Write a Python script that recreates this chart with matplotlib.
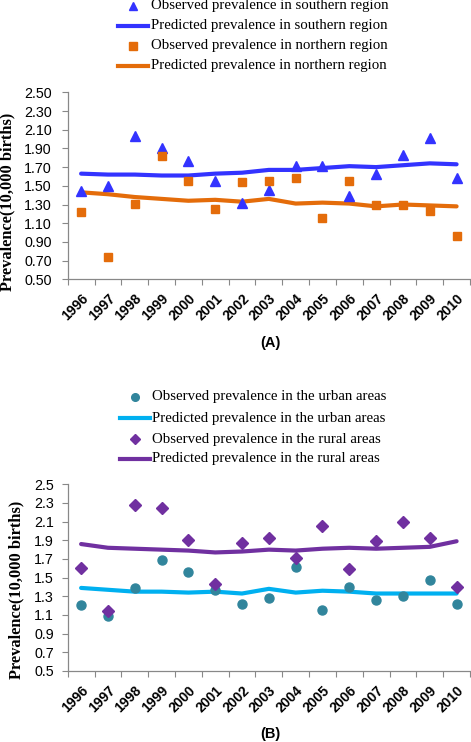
import matplotlib
matplotlib.use("Agg")
import matplotlib.pyplot as plt
from matplotlib.lines import Line2D
import numpy as np

years = ["1996", "1997", "1998", "1999", "2000", "2001", "2002", "2003",
         "2004", "2005", "2006", "2007", "2008", "2009", "2010"]

south_obs = [1.44, 1.50, 2.03, 1.90, 1.77, 1.55, 1.32, 1.46, 1.71, 1.71, 1.39, 1.63, 1.83, 2.01, 1.58]
south_pred = [1.63, 1.62, 1.62, 1.61, 1.61, 1.63, 1.64, 1.67, 1.67, 1.69, 1.71, 1.70, 1.72, 1.74, 1.73]
north_obs = [1.22, 0.74, 1.31, 1.82, 1.55, 1.25, 1.54, 1.55, 1.58, 1.16, 1.55, 1.29, 1.30, 1.23, 0.96]
north_pred = [1.43, 1.41, 1.38, 1.36, 1.34, 1.35, 1.33, 1.36, 1.31, 1.32, 1.31, 1.28, 1.30, 1.29, 1.28]

urban_obs = [1.21, 1.09, 1.39, 1.69, 1.56, 1.37, 1.22, 1.28, 1.61, 1.15, 1.40, 1.26, 1.30, 1.47, 1.22]
urban_pred = [1.39, 1.37, 1.35, 1.35, 1.34, 1.35, 1.33, 1.38, 1.34, 1.36, 1.35, 1.33, 1.33, 1.33, 1.33]
rural_obs = [1.60, 1.14, 2.28, 2.25, 1.90, 1.43, 1.87, 1.93, 1.71, 2.05, 1.59, 1.89, 2.10, 1.92, 1.40]
rural_pred = [1.86, 1.82, 1.81, 1.80, 1.79, 1.77, 1.78, 1.80, 1.79, 1.81, 1.82, 1.81, 1.82, 1.83, 1.89]

yticks_a = [0.50, 0.70, 0.90, 1.10, 1.30, 1.50, 1.70, 1.90, 2.10, 2.30, 2.50]
yticks_b = [0.5, 0.7, 0.9, 1.1, 1.3, 1.5, 1.7, 1.9, 2.1, 2.3, 2.5]

SERIF = ["Liberation Serif", "DejaVu Serif"]
SANS = ["Liberation Sans", "DejaVu Sans"]

fig = plt.figure(figsize=(4.71, 7.42), dpi=100)
W, H = 471.0, 742.0
LEFT, RIGHT = 67.7, 470.0


def make_axes(top_px, bot_px):
    return fig.add_axes([LEFT / W, 1 - bot_px / H, (RIGHT - LEFT) / W, (bot_px - top_px) / H])


def style(ax, yticks, fmt, top_px, bot_px, lab_right_px, lab_center_px, ypad):
    n = len(years)
    x = np.arange(n)
    ax.set_xlim(-0.5, n - 0.5)
    ax.set_ylim(yticks[0], yticks[-1])
    ax.set_yticks(yticks)
    ax.set_yticklabels([fmt.format(v) for v in yticks], fontfamily=SANS, fontsize=10.3)
    ax.set_xticks(x)
    ax.set_xticklabels(years, rotation=45, ha="right", va="top", rotation_mode="anchor",
                       fontfamily=SANS, fontweight="bold", fontsize=10)
    ax.set_xticks(np.arange(n + 1) - 0.5, minor=True)
    ax.tick_params(axis="x", which="major", length=0, pad=9)
    ax.tick_params(axis="x", which="minor", length=4, color="#888888", width=0.8)
    ax.tick_params(axis="y", length=4, color="#888888", width=0.8, pad=ypad)
    for s in ["top", "right"]:
        ax.spines[s].set_visible(False)
    for s in ["left", "bottom"]:
        ax.spines[s].set_color("#888888")
        ax.spines[s].set_linewidth(0.9)
    ax.set_ylabel("Prevalence(10,000 births)", fontfamily=SERIF, fontweight="bold", fontsize=11.8)
    ax.yaxis.set_label_coords((lab_right_px - LEFT) / (RIGHT - LEFT),
                              (bot_px - lab_center_px) / (bot_px - top_px))
    return x


# Panel A
axA = make_axes(92.3, 279.3)
x = style(axA, yticks_a, "{:.2f}", 92.3, 279.3, 15, 202, 7.5)
c_blue = "#3333FF"
c_orange = "#E46C0A"
axA.plot(x, south_pred, color=c_blue, lw=3, solid_capstyle="round", zorder=2)
axA.plot(x, north_pred, color=c_orange, lw=3, solid_capstyle="round", zorder=2)
axA.plot(x, south_obs, ls="none", marker="^", ms=7.5, color=c_blue, zorder=3)
axA.plot(x, north_obs, ls="none", marker="s", ms=6, color=c_orange, zorder=3)
fig.text(270 / W, 1 - 343 / H, "(A)", fontfamily=SANS, fontweight="bold", fontsize=10.5, ha="center", va="center")

# Panel B
axB = make_axes(484.3, 671.0)
x = style(axB, yticks_b, "{:.1f}", 484.3, 671.0, 24, 590, 6)
c_teal = "#31859C"
c_lblue = "#00B0F0"
c_purple = "#7030A0"
axB.plot(x, rural_pred, color=c_purple, lw=3, solid_capstyle="round", zorder=2)
axB.plot(x, urban_pred, color=c_lblue, lw=3, solid_capstyle="round", zorder=2)
axB.plot(x, urban_obs, ls="none", marker="o", ms=6.5, color=c_teal, zorder=3)
axB.plot(x, rural_obs, ls="none", marker="D", ms=5.8, color=c_purple, zorder=3)
fig.text(270 / W, 1 - 734 / H, "(B)", fontfamily=SANS, fontweight="bold", fontsize=10.5, ha="center", va="center")


def legend(entries, ys, hx0, hx1, tx):
    for (kind, color, mk, ms, label), yp in zip(entries, ys):
        yf = 1 - yp / H
        if kind == "line":
            fig.add_artist(Line2D([hx0 / W, hx1 / W], [yf, yf], color=color, lw=3,
                                  transform=fig.transFigure))
        else:
            fig.add_artist(Line2D([(hx0 + hx1) / 2 / W], [yf], ls="none", marker=mk, ms=ms,
                                  color=color, transform=fig.transFigure))
        fig.text(tx / W, yf, label, fontfamily=SERIF, fontsize=10.7, ha="left", va="center")


legend([
    ("marker", c_blue, "^", 6, "Observed prevalence in southern region"),
    ("line", c_blue, None, None, "Predicted prevalence in southern region"),
    ("marker", c_orange, "s", 5.5, "Observed prevalence in northern region"),
    ("line", c_orange, None, None, "Predicted prevalence in northern region"),
], [6, 26, 46, 66], 118, 148, 151)

legend([
    ("marker", c_teal, "o", 5.5, "Observed prevalence in the urban areas"),
    ("line", c_lblue, None, None, "Predicted prevalence in the urban areas"),
    ("marker", c_purple, "D", 5, "Observed prevalence in the rural areas"),
    ("line", c_purple, None, None, "Predicted prevalence in the rural areas"),
], [397, 418, 439, 459], 120, 150, 152)

fig.savefig("out.png", dpi=100)
